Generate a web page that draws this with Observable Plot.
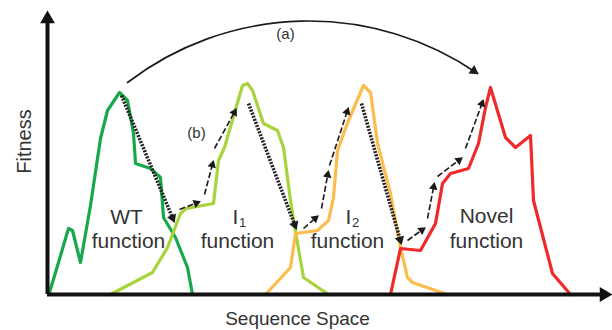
<!DOCTYPE html>
<html><head><meta charset="utf-8">
<script src="https://cdn.jsdelivr.net/npm/d3@7"></script>
<script src="https://cdn.jsdelivr.net/npm/@observablehq/plot@0.6"></script>
<style>body{margin:0;background:#fff}</style>
</head><body><div id="chart"></div>
<script>
// Sequence position (x) and fitness (y) of each landscape
const wtSeq  = [2, 11, 21, 25, 33, 43, 53, 60, 72, 80, 86, 88, 103, 113, 116, 128, 140, 145];
const wtFit  = [2, 32, 66, 64, 32, 89, 156, 184, 202, 194, 161, 131, 126, 117, 77, 57, 27, 0];
const i1Seq  = [63, 105, 120, 133, 139, 166, 171, 177, 195, 200, 205, 216, 230, 236, 243, 249, 256, 281];
const i1Fit  = [0, 22, 47, 81, 86, 91, 134, 147, 209, 211, 204, 171, 164, 147, 94, 57, 17, 0];
const i2Seq  = [218, 243, 248, 270, 281, 286, 290, 301, 316, 323, 326, 330, 343, 353, 360, 365, 400];
const i2Fit  = [0, 27, 61, 64, 74, 97, 144, 174, 209, 202, 181, 151, 101, 47, 17, 12, 0];
const novSeq = [343, 353, 373, 388, 395, 403, 421, 431, 438, 443, 458, 468, 483, 486, 505, 523];
const novFit = [0, 46, 44, 71, 111, 121, 126, 151, 187, 207, 157, 147, 159, 94, 21, 0];

const curveNames  = ["WT", "I1", "I2", "Novel"];
const curveColors = ["#17a84a", "#a8d33c", "#fcbd4c", "#ee2a2a"];

// Downhill (dotted) moves: [seq1, fit1, seq2, fit2]
const downMoves = [[74, 199, 127, 72], [201, 191, 249, 65], [314, 191, 354, 50]];
// Uphill (dashed) stepwise moves
const upMoves = [
  [132, 85, 153, 93], [157, 100, 166, 134], [167, 146, 189, 186],
  [256, 66, 271, 79], [274, 86, 281, 124], [282, 129, 301, 187],
  [360, 54, 378, 67], [380, 76, 387, 112], [390, 118, 415, 137], [418, 146, 436, 195]
];
// Long jump (a)
const jump = [{x1: 80, y1: 212, x2: 430, y2: 221}];
const jumpBend = 36;

// Labels
const bigLabels = [
  {t: "WT", x: 79, y: 77}, {t: "function", x: 81, y: 53},
  {t: "I", x: 188, y: 77}, {t: "function", x: 190, y: 53},
  {t: "I", x: 301, y: 77}, {t: "function", x: 300, y: 53},
  {t: "Novel", x: 439, y: 78}, {t: "function", x: 439, y: 53}
];
const subLabels = [{t: "1", x: 195, y: 72}, {t: "2", x: 308, y: 72}];
const smallLabels = [{t: "(a)", x: 238, y: 260}, {t: "(b)", x: 149, y: 161}];
const axisTitles = {x: "Sequence Space", y: "Fitness"};
const axisEnds = {x: 565, y: 284};

const curves = [];
[[wtSeq, wtFit], [i1Seq, i1Fit], [i2Seq, i2Fit], [novSeq, novFit]].forEach(([s, f], k) =>
  s.forEach((v, i) => curves.push({seq: v, fit: f[i], name: curveNames[k]})));

function heads(segs, back) {
  return segs.map(([x1, y1, x2, y2]) => {
    const L = Math.hypot(x2 - x1, y2 - y1), ux = (x2 - x1) / L, uy = (y2 - y1) / L;
    return {x: x2 - ux * back, y: y2 - uy * back, rot: Math.atan2(x2 - x1, y2 - y1) * 180 / Math.PI};
  });
}
function shafts(segs, cut) {
  return segs.map(([x1, y1, x2, y2]) => {
    const L = Math.hypot(x2 - x1, y2 - y1), ux = (x2 - x1) / L, uy = (y2 - y1) / L;
    return {x1, y1, x2: x2 - ux * cut, y2: y2 - uy * cut};
  });
}
// end tangent of the bent jump arrow
const j = jump[0];
const chordAng = Math.atan2(-(j.y2 - j.y1), j.x2 - j.x1) * 180 / Math.PI; // screen angle
const endAng = chordAng + jumpBend;
const jumpHead = [{x: j.x2 - 4.5 * Math.cos(endAng * Math.PI / 180), y: j.y2 + 4.5 * Math.sin(endAng * Math.PI / 180), rot: endAng + 90}];

const font = "Liberation Sans, Arial, Helvetica, sans-serif";
const textColor = "#333";

const chart = Plot.plot({
  width: 612, height: 330,
  marginTop: 0, marginRight: 0, marginBottom: 0, marginLeft: 0,
  x: {domain: [0, 565], range: [47, 612], axis: null},
  y: {domain: [0, 294], range: [294, 0], axis: null},
  color: {domain: curveNames, range: curveColors},
  style: {fontFamily: font, background: "#fff"},
  marks: [
    Plot.line(curves, {x: "seq", y: "fit", z: "name", stroke: "name", strokeWidth: 3.2, strokeLinejoin: "round"}),
    // axes
    Plot.ruleY([0], {x1: 0, x2: axisEnds.x - 10, stroke: "#111", strokeWidth: 4}),
    Plot.ruleX([0], {y1: 0, y2: axisEnds.y - 10, stroke: "#111", strokeWidth: 4}),
    Plot.dot([{x: 0, y: axisEnds.y - 8.5, r: 0}, {x: axisEnds.x - 8.5, y: 0, r: 90}],
      {x: "x", y: "y", rotate: "r", symbol: "triangle", r: 5.5, fill: "#111", stroke: null}),
    // downhill dotted moves
    Plot.link(shafts(downMoves, 4), {x1: "x1", y1: "y1", x2: "x2", y2: "y2", stroke: "#222", strokeWidth: 3.6, strokeDasharray: "2,1.3"}),
    Plot.dot(heads(downMoves, 5), {x: "x", y: "y", rotate: "rot", symbol: "triangle", r: 3.6, fill: "#1a1a1a", stroke: null}),
    // uphill dashed moves
    Plot.link(shafts(upMoves, 3), {x1: "x1", y1: "y1", x2: "x2", y2: "y2", stroke: "#1a1a1a", strokeWidth: 1.6, strokeDasharray: "6,2.5"}),
    Plot.dot(heads(upMoves, 4.5), {x: "x", y: "y", rotate: "rot", symbol: "triangle", r: 3.2, fill: "#1a1a1a", stroke: null}),
    // jump arrow
    Plot.arrow(jump, {x1: "x1", y1: "y1", x2: "x2", y2: "y2", bend: jumpBend, headLength: 0, stroke: "#1a1a1a", strokeWidth: 1.6}),
    Plot.dot(jumpHead, {x: "x", y: "y", rotate: "rot", symbol: "triangle", r: 3.8, fill: "#1a1a1a", stroke: null}),
    // labels
    Plot.text(bigLabels, {x: "x", y: "y", text: "t", fontSize: 21, fill: textColor}),
    Plot.text(subLabels, {x: "x", y: "y", text: "t", fontSize: 13, fill: textColor}),
    Plot.text(smallLabels, {x: "x", y: "y", text: "t", fontSize: 15, fill: textColor}),
    Plot.text([axisTitles.x], {x: 250, y: -24, text: d => d, fontSize: 19, fill: textColor}),
    Plot.text([axisTitles.y], {x: -23, y: 153, text: d => d, rotate: -90, fontSize: 20, fill: textColor})
  ]
});
document.getElementById("chart").appendChild(chart);
</script>
</body></html>
